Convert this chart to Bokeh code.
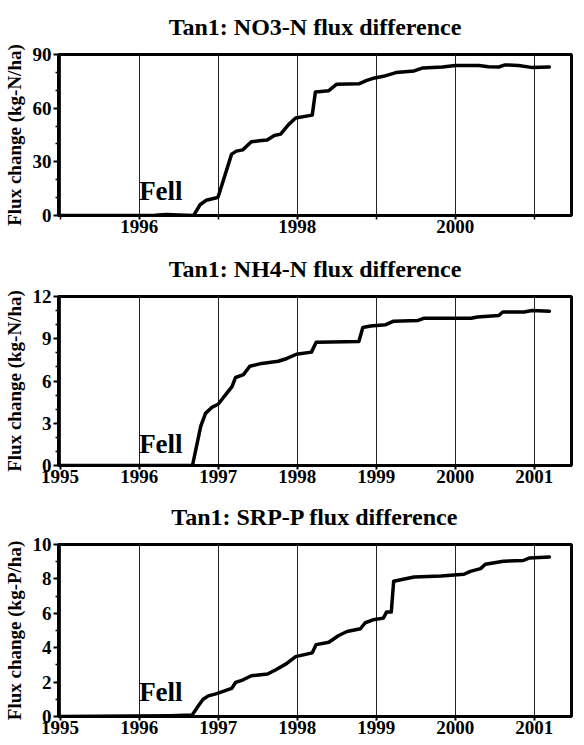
from bokeh.plotting import figure
from bokeh.layouts import column
from bokeh.models import FixedTicker, Range1d, ColumnDataSource
from bokeh.core.properties import value
from bokeh.embed import file_html
from bokeh.resources import INLINE

# ---------------- data ----------------
no3_year = [1995.0, 1996.2, 1996.35, 1996.5, 1996.69, 1996.77, 1996.85, 1996.98, 1997.0,
            1997.17, 1997.23, 1997.31, 1997.42, 1997.52, 1997.62, 1997.71, 1997.79, 1997.89,
            1997.98, 1998.19, 1998.23, 1998.4, 1998.5, 1998.78, 1998.88, 1998.98, 1999.09,
            1999.25, 1999.48, 1999.59, 1999.84, 2000.0, 2000.3, 2000.42, 2000.55, 2000.63,
            2000.8, 2000.96, 2001.19]
no3_flux = [0, 0.2, 0.6, 0.3, 0, 6, 8.5, 9.9, 10.5,
            34.3, 36, 36.7, 41.2, 41.8, 42.2, 44.7, 45.5, 50.8,
            54.5, 56.1, 69.1, 69.8, 73.4, 73.6, 75.5, 76.9, 77.8,
            79.9, 80.8, 82.5, 83, 83.9, 83.9, 83.2, 83, 84.2,
            83.9, 82.8, 83]

nh4_year = [1995.0, 1996.675, 1996.78, 1996.84, 1996.925, 1997.0, 1997.09, 1997.175, 1997.22,
            1997.32, 1997.40, 1997.55, 1997.76, 1997.87, 1997.99, 1998.18, 1998.24, 1998.78,
            1998.83, 1998.93, 1999.12, 1999.22, 1999.53, 1999.6, 2000.2, 2000.28, 2000.55,
            2000.6, 2000.87, 2000.97, 2001.19]
nh4_flux = [0, 0, 2.8, 3.7, 4.15, 4.35, 5.0, 5.6, 6.25,
            6.45, 7.05, 7.25, 7.4, 7.6, 7.9, 8.05, 8.75, 8.8,
            9.8, 9.9, 10.0, 10.25, 10.3, 10.45, 10.45, 10.55, 10.65,
            10.9, 10.9, 11.0, 10.95]

srp_year = [1995.0, 1996.4, 1996.67, 1996.75, 1996.81, 1996.875, 1996.96, 1997.0, 1997.17,
            1997.22, 1997.31, 1997.42, 1997.54, 1997.625, 1997.73, 1997.86, 1997.98, 1998.19,
            1998.24, 1998.40, 1998.525, 1998.63, 1998.80, 1998.86, 1998.96, 1999.09, 1999.13,
            1999.19, 1999.22, 1999.34, 1999.48, 1999.82, 2000.11, 2000.19, 2000.32, 2000.38,
            2000.61, 2000.86, 2000.94, 2001.19]
srp_flux = [0, 0.05, 0.08, 0.62, 1.0, 1.2, 1.3, 1.36, 1.63,
            1.98, 2.12, 2.37, 2.43, 2.47, 2.72, 3.06, 3.48, 3.70,
            4.18, 4.32, 4.71, 4.94, 5.1, 5.45, 5.62, 5.72, 6.07,
            6.07, 7.86, 7.98, 8.11, 8.17, 8.27, 8.44, 8.6, 8.85,
            9.03, 9.07, 9.22, 9.28]

titles = ["Tan1: NO3-N flux difference", "Tan1: NH4-N flux difference", "Tan1: SRP-P flux difference"]
ylabels = ["Flux change (kg-N/ha)", "Flux change (kg-N/ha)", "Flux change (kg-P/ha)"]

grid_years = [1995, 1996, 1997, 1998, 1999, 2000, 2001]
no3_xlabels = [1996, 1998, 2000]
no3_xminor = [1995, 1997, 1999, 2001]
all_xlabels = [1995, 1996, 1997, 1998, 1999, 2000, 2001]

no3_yticks = [0, 30, 60, 90]
no3_yminor = [10, 20, 40, 50, 70, 80]
nh4_yticks = [0, 3, 6, 9, 12]
nh4_yminor = [1, 2, 4, 5, 7, 8, 10, 11]
srp_yticks = [0, 2, 4, 6, 8, 10]
srp_yminor = [1, 3, 5, 7, 9]

fell_text = ["Fell"]
fell_x = [1996.0, 1996.0, 1996.0]
fell_y = [13.6, 1.5, 1.42]

FONT = "Liberation Serif"


def make_panel(title, ylabel, xs, ys, xticks, xminor, yticks, yminor, ymax, fx, fy,
               top, bottom, fh):
    p = figure(output_backend="svg", toolbar_location=None,
               width=52 + 519 + 4, height=top + fh + bottom,
               min_border_left=52, min_border_right=4,
               min_border_top=top, min_border_bottom=bottom,
               x_range=Range1d(1994.98, 2001.47), y_range=Range1d(0, ymax),
               title=title)
    p.title.text_font = FONT
    p.title.text_font_style = "bold"
    p.title.text_font_size = "24px"
    p.title.align = "center"
    p.title.vertical_align = "top"
    p.title.text_color = "black"
    p.title.standoff = 26

    p.outline_line_color = "black"
    p.outline_line_width = 3
    p.outline_line_alpha = 1
    p.background_fill_color = "white"
    p.border_fill_color = "white"

    p.xaxis.ticker = FixedTicker(ticks=xticks, minor_ticks=xminor)
    p.yaxis.ticker = FixedTicker(ticks=yticks, minor_ticks=yminor)
    for ax in (p.xaxis, p.yaxis):
        ax.axis_line_width = 3
        ax.axis_line_color = "black"
        ax.major_tick_line_width = 2
        ax.minor_tick_line_width = 1.5
        ax.major_tick_line_color = "black"
        ax.minor_tick_line_color = "black"
        ax.major_tick_in = 0
        ax.minor_tick_in = 0
        ax.major_label_text_font = FONT
        ax.major_label_text_font_style = "bold"
        ax.major_label_text_font_size = "19px"
        ax.major_label_text_color = "black"
    p.xaxis.major_tick_out = 4
    p.xaxis.minor_tick_out = 4
    p.xaxis.major_label_standoff = 0
    p.yaxis.major_tick_out = 5
    p.yaxis.minor_tick_out = 3
    p.yaxis.major_label_standoff = 2
    p.yaxis.axis_label = ylabel
    p.yaxis.axis_label_text_font = FONT
    p.yaxis.axis_label_text_font_style = "bold"
    p.yaxis.axis_label_text_font_size = "19px"
    p.yaxis.axis_label_text_color = "black"
    p.yaxis.axis_label_standoff = 5

    p.xgrid.ticker = FixedTicker(ticks=grid_years)
    p.xgrid.grid_line_color = "#222222"
    p.xgrid.grid_line_width = 1
    p.xgrid.grid_line_alpha = 1
    p.ygrid.visible = False

    p.line(xs, ys, line_color="black", line_width=3.5, line_join="round", line_cap="round")

    src = ColumnDataSource(dict(x=[fx], y=[fy], t=fell_text))
    p.text(x="x", y="y", text="t", source=src, text_font=value(FONT),
           text_font_style="bold", text_font_size="27px", text_color="black",
           text_align="left", text_baseline="alphabetic")
    return p


p1 = make_panel(titles[0], ylabels[0], no3_year, no3_flux, no3_xlabels, no3_xminor,
                no3_yticks, no3_yminor, 90, fell_x[0], fell_y[0], 43, 27, 172)
p2 = make_panel(titles[1], ylabels[1], nh4_year, nh4_flux, all_xlabels, [],
                nh4_yticks, nh4_yminor, 12, fell_x[1], fell_y[1], 51, 22, 172)
p3 = make_panel(titles[2], ylabels[2], srp_year, srp_flux, all_xlabels, [],
                srp_yticks, srp_yminor, 10, fell_x[2], fell_y[2], 57, 28, 172)

layout = column(p1, p2, p3, spacing=0)
open("out.html", "w").write(file_html(layout, INLINE))
